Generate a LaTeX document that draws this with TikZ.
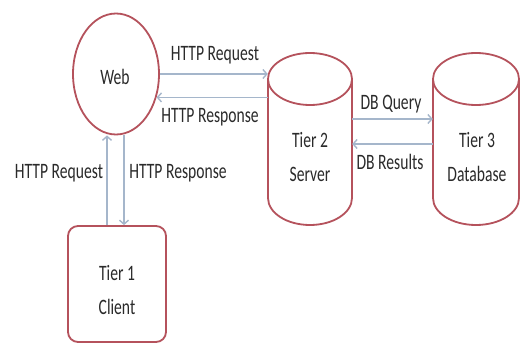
\documentclass[tikz,border=0pt]{standalone}
\usepackage{fontspec}
\setmainfont{Carlito}[FakeStretch=0.71]
\usetikzlibrary{arrows.meta,shapes.geometric}
\definecolor{edge}{HTML}{B5525C}
\definecolor{connc}{HTML}{A5B6CB}
\definecolor{ink}{HTML}{2A2A2A}
\begin{document}
\begin{tikzpicture}[x=1pt,y=1pt,
  shapeline/.style={draw=edge,line width=1.8pt},
  conn/.style={draw=connc,line width=1.4pt,-{Straight Barb[length=4pt,width=9pt]}},
  lbl/.style={text=ink,font=\fontsize{22}{34}\selectfont,inner sep=0pt,align=center}]
\useasboundingbox (0,0) rectangle (520,-345);
\fill[white] (0,0) rectangle (520,-345);
% Web
\node[ellipse,shapeline,minimum width=86,minimum height=121,inner sep=0pt] (web) at (116,-74) {};
\node[lbl] (webtxt) at (115,-77) {Web};
% Server cylinder
\node[minimum width=84,minimum height=172,inner sep=0pt] (srv) at (310,-139) {};
\draw[shapeline] (268,-79) -- (268,-198) arc[start angle=180,end angle=360,x radius=42,y radius=27] -- (352,-79);
\draw[shapeline] (310,-79) ellipse[x radius=42,y radius=26];
\node[lbl] (srvtxt) at (310,-157) {Tier 2\\Server};
% Database cylinder
\node[minimum width=86,minimum height=172,inner sep=0pt] (db) at (476,-139) {};
\draw[shapeline] (433,-79) -- (433,-198) arc[start angle=180,end angle=360,x radius=43,y radius=27] -- (519,-79);
\draw[shapeline] (476,-79) ellipse[x radius=43,y radius=26];
\node[lbl] (dbtxt) at (477,-157) {Tier 3\\Database};
% Client
\node[shapeline,rounded corners=10pt,minimum width=98,minimum height=116,inner sep=0pt] (client) at (117,-284) {};
\node[lbl] (clienttxt) at (117,-290) {Tier 1\\Client};
% connectors
\coordinate (q) at (0,-119);
\coordinate (rs) at (0,-144);
\coordinate (vl) at (107,0);
\coordinate (vr) at (124,0);
\draw[conn] (web.east) -- (web.east -| srv.west);
\draw[conn] (srv.west |- web.-30) -- (web.-30);
\draw[conn] (srv.east |- q) -- (db.west |- q);
\draw[conn] (db.west |- rs) -- (srv.east |- rs);
\draw[conn] (vl |- client.north) -- (vl |- web.south);
\draw[conn] (vr |- web.south) -- (vr |- client.north);
% labels
\node[lbl] (l1) at (215,-55) {HTTP Request};
\node[lbl] (l2) at (210,-117) {HTTP Response};
\node[lbl] (l3) at (391,-104) {DB Query};
\node[lbl] (l4) at (390,-162) {DB Results};
\node[lbl] (l5) at (59,-173) {HTTP Request};
\node[lbl] (l6) at (178,-173) {HTTP Response};
\end{tikzpicture}
\end{document}
